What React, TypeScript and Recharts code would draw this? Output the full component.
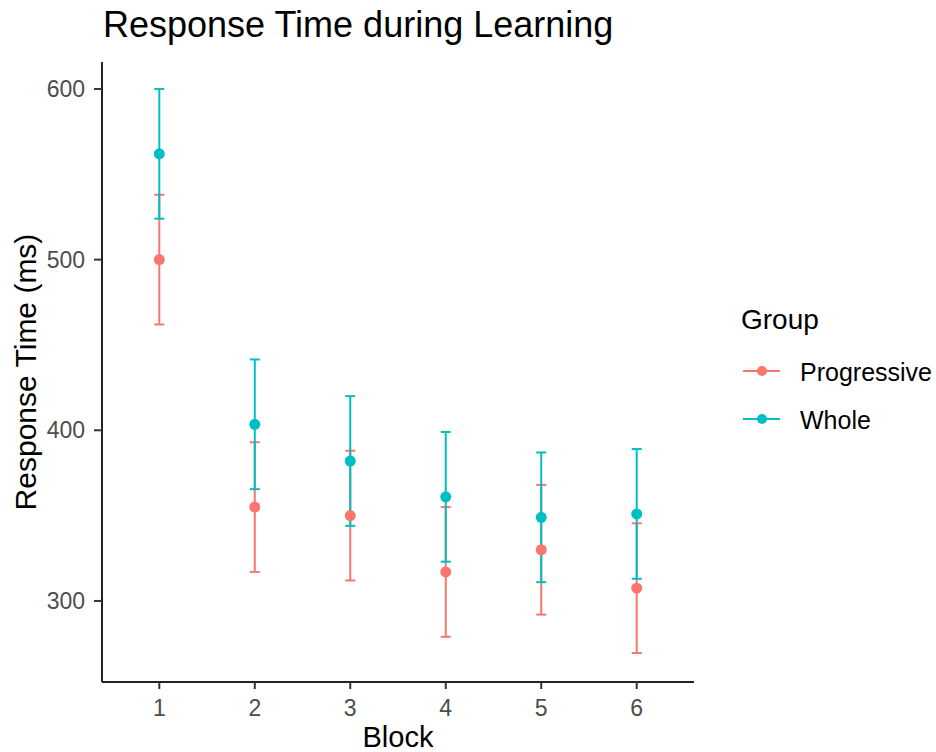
import { ScatterChart, Scatter, ErrorBar, XAxis, YAxis, Legend } from "recharts";

const FONT = "'Liberation Sans', Arial, sans-serif";

// mean response time (ms) per block, with standard error
const blocks = [1, 2, 3, 4, 5, 6];
const progressiveRt = [500, 355, 350, 317, 330, 307.5];
const progressiveSe = [38, 38, 38, 38, 38, 38];
const wholeRt = [562, 403.5, 382, 361, 349, 351];
const wholeSe = [38, 38, 38, 38, 38, 38];

const yTicks = [300, 400, 500, 600];

const groups = [
  { name: "Progressive", color: "#F8766D", rt: progressiveRt, se: progressiveSe },
  { name: "Whole", color: "#00BFC4", rt: wholeRt, se: wholeSe },
];

const rows = (rt: number[], se: number[]) =>
  blocks.map((b, i) => ({ block: b, rt: rt[i], se: se[i] }));

const GroupLegend = () => (
  <svg width={200} height={150} style={{ fontFamily: FONT }}>
    <text x={5} y={39} fontSize={28} fill="#000">
      Group
    </text>
    {groups.map((g, i) => {
      const cy = 81 + i * 48;
      return (
        <g key={g.name}>
          <line x1={7} x2={44} y1={cy} y2={cy} stroke={g.color} strokeWidth={2} />
          <circle cx={26} cy={cy} r={5} fill={g.color} />
          <text x={64} y={cy + 9.5} fontSize={25} fill="#000">
            {g.name}
          </text>
        </g>
      );
    })}
  </svg>
);

export default function App() {
  return (
    <div style={{ position: "absolute", left: 0, top: 0, width: 936, height: 752, background: "#fff", fontFamily: FONT }}>
      <div style={{ position: "absolute", left: 103, top: 7, fontSize: 36, lineHeight: "36px", color: "#000", whiteSpace: "nowrap" }}>
        Response Time during Learning
      </div>
      <ScatterChart width={936} height={752} margin={{ top: 62, right: 242, bottom: 0, left: 8 }}>
        <XAxis
          dataKey="block"
          type="number"
          domain={[0.4, 6.6]}
          ticks={blocks}
          allowDataOverflow
          height={70}
          tickSize={7}
          tickMargin={11}
          axisLine={{ stroke: "#222", strokeWidth: 2 }}
          tickLine={{ stroke: "#333", strokeWidth: 2 }}
          tick={{ fill: "#4D4D4D", fontSize: 23, fontFamily: FONT }}
          label={{ value: "Block", position: "insideBottom", offset: 5, fill: "#000", fontSize: 29, fontFamily: FONT }}
        />
        <YAxis
          dataKey="rt"
          type="number"
          domain={[252.5, 615.8]}
          ticks={yTicks}
          allowDataOverflow
          width={94}
          tickSize={8}
          tickMargin={9}
          axisLine={{ stroke: "#222", strokeWidth: 2 }}
          tickLine={{ stroke: "#333", strokeWidth: 2 }}
          tick={{ fill: "#4D4D4D", fontSize: 23, fontFamily: FONT }}
          label={{
            value: "Response Time (ms)",
            angle: -90,
            position: "insideLeft",
            offset: 17,
            fill: "#000",
            fontSize: 30,
            fontFamily: FONT,
            style: { textAnchor: "middle" },
          }}
        />
        <Legend
          layout="horizontal"
          align="center"
          verticalAlign="middle"
          content={<GroupLegend />}
          wrapperStyle={{ left: 736, top: 290, width: 200, height: 150 }}
        />
        {/* error bars first, points drawn over them */}
        {groups.map((g) => (
          <Scatter
            key={g.name + "-err"}
            name={g.name + " SE"}
            data={rows(g.rt, g.se)}
            legendType="none"
            shape={() => <g />}
            isAnimationActive={false}
          >
            <ErrorBar dataKey="se" direction="y" width={5} stroke={g.color} strokeWidth={2} isAnimationActive={false} />
          </Scatter>
        ))}
        {groups.map((g) => (
          <Scatter
            key={g.name}
            name={g.name}
            data={rows(g.rt, g.se)}
            fill={g.color}
            shape={(p: any) => <circle cx={p.cx} cy={p.cy} r={5.5} fill={g.color} />}
            isAnimationActive={false}
          />
        ))}
      </ScatterChart>
    </div>
  );
}
